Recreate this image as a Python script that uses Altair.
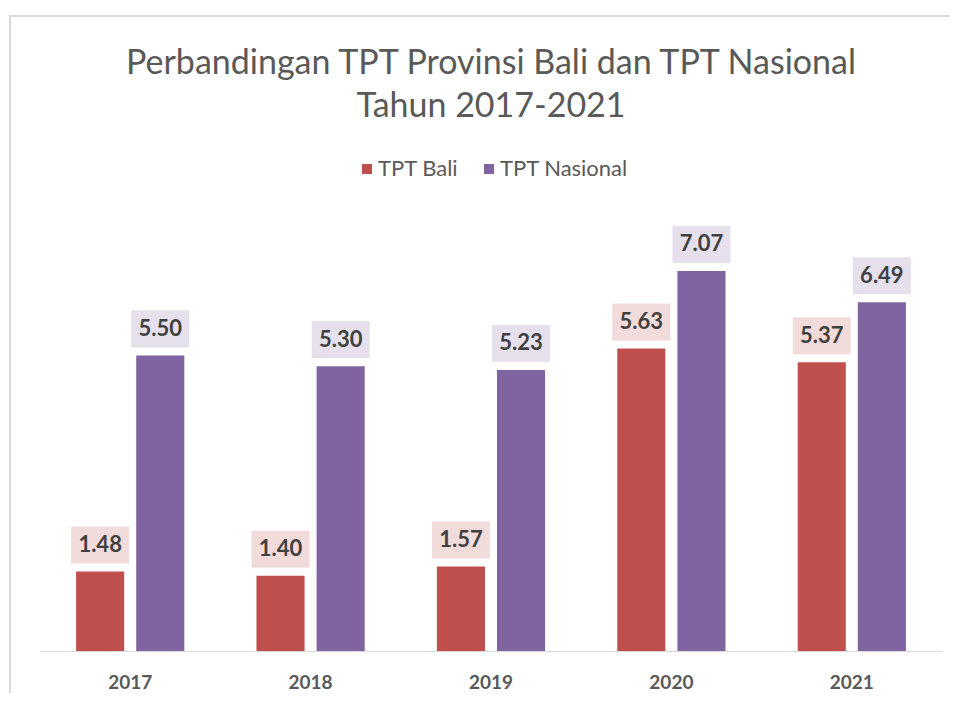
import altair as alt
import pandas as pd

years = ["2017", "2018", "2019", "2020", "2021"]
series = ["TPT Bali", "TPT Nasional"]
bali = [1.48, 1.40, 1.57, 5.63, 5.37]
nasional = [5.50, 5.30, 5.23, 7.07, 6.49]

rows = []
for i, yr in enumerate(years):
    rows.append({"year": yr, "series": series[0], "value": bali[i]})
    rows.append({"year": yr, "series": series[1], "value": nasional[i]})
df = pd.DataFrame(rows)
df["label"] = df["value"].map(lambda v: f"{v:.2f}")

FONT = "Lato"

x = alt.X(
    "year:N", sort=years,
    scale=alt.Scale(paddingInner=0.4, paddingOuter=0.2),
    axis=alt.Axis(title=None, labelAngle=0, labelFont=FONT, labelFontSize=19,
                  labelFontWeight="bold", labelColor="#595959", labelPadding=22,
                  domainColor="#d9d9d9", domainWidth=1, ticks=False, grid=False),
)
xo = alt.XOffset("series:N", sort=series, scale=alt.Scale(paddingInner=0.2, paddingOuter=0))
y = alt.Y("value:Q", scale=alt.Scale(domain=[0, 8], nice=False), axis=None)

base = alt.Chart(df)

bars = base.mark_bar().encode(
    x=x, xOffset=xo, y=y,
    color=alt.Color(
        "series:N", sort=series,
        scale=alt.Scale(domain=series, range=["#c0504d", "#8064a2"]),
        legend=alt.Legend(title=None, orient="none", legendX=316, legendY=-63,
                          direction="horizontal", symbolType="square", symbolSize=100,
                          symbolStrokeWidth=0, labelFont=FONT, labelFontSize=22,
                          labelColor="#595959", labelOffset=0, columnPadding=19),
    ),
)

box_path = "M-1,-0.638L1,-0.638L1,0.638L-1,0.638Z"
boxes = base.mark_point(shape=box_path, size=3364, filled=True, opacity=1,
                        strokeWidth=0, yOffset=-26.5).encode(
    x=x, xOffset=xo, y=y,
    fill=alt.Fill("series:N", sort=series,
                  scale=alt.Scale(domain=series, range=["#f2dcdb", "#e6e0ec"]),
                  legend=None),
)

labels = base.mark_text(font=FONT, fontSize=22, fontWeight="bold", color="#404040",
                        yOffset=-26.5, baseline="middle").encode(
    x=x, xOffset=xo, y=y, text="label:N",
)

frame = alt.Chart(pd.DataFrame({"a": [0]})).mark_rect(
    fillOpacity=0, stroke="#d9d9d9", strokeWidth=2
).encode(x=alt.value(-30), x2=alt.value(2000), y=alt.value(-205), y2=alt.value(2000))

chart = alt.layer(frame, bars, boxes, labels).properties(
    width=902, height=430,
    background="white",
    padding={"left": 32, "top": 213, "right": 8, "bottom": 42},
    autosize=alt.AutoSizeParams(type="none"),
    title=alt.TitleParams(
        ["Perbandingan TPT Provinsi Bali dan TPT Nasional", "Tahun 2017-2021"],
        font=FONT, fontSize=34, fontWeight="normal", color="#595959",
        lineHeight=43, anchor="middle", frame="group", offset=-109,
    ),
).configure_view(strokeWidth=0)

chart.save("out.html", embed_options={"renderer": "svg", "actions": False})
